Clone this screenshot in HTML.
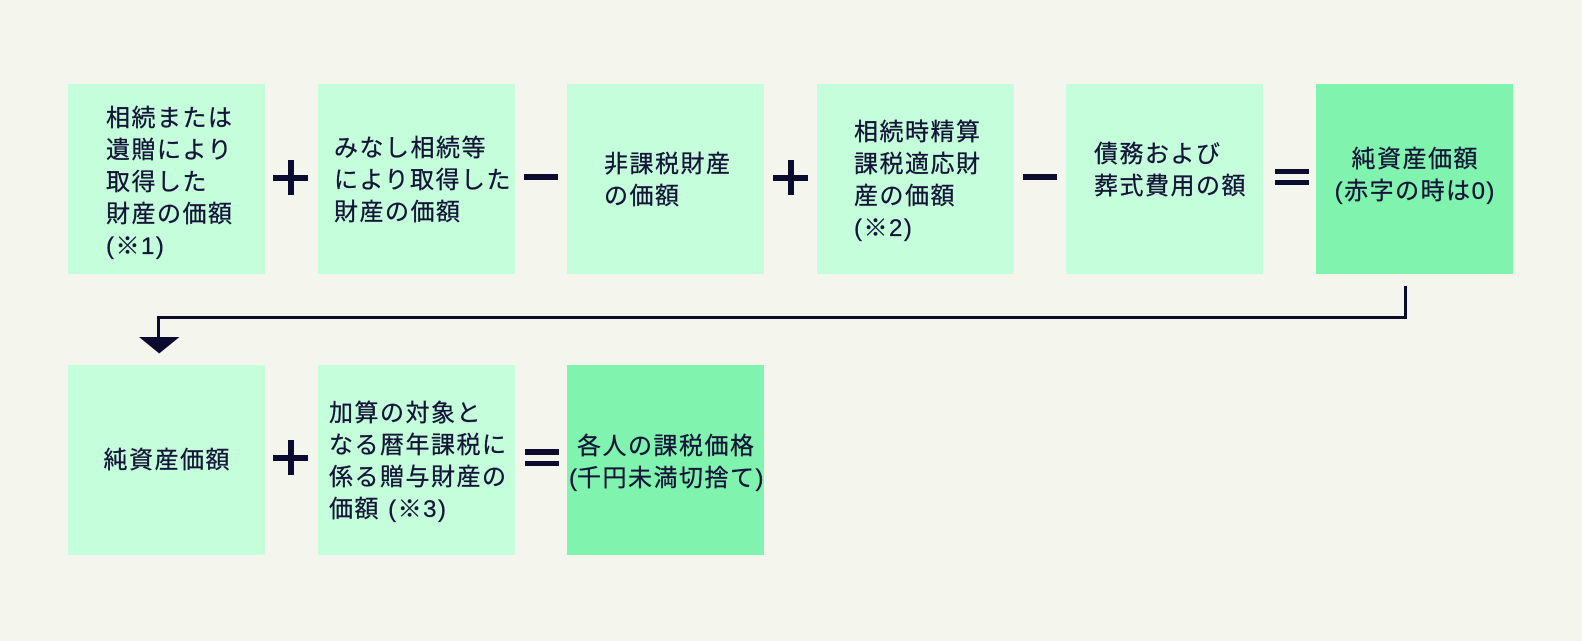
<!DOCTYPE html>
<html><head><meta charset="utf-8"><style>
html,body{margin:0;padding:0}
body{width:1582px;height:641px;background:#f4f6ee;position:relative;overflow:hidden;font-family:"Liberation Sans","Noto Sans CJK JP",sans-serif;}
.b{position:absolute;width:197px;height:190px;background:#c5fedb}
.d{background:#80f3ae}
.t{position:absolute;font-size:24px;line-height:32px;letter-spacing:1.5px;color:#141438;white-space:nowrap;-webkit-text-stroke:0.3px #141438}
.c{text-align:center;width:197px;padding-left:1.5px;box-sizing:border-box}
.p{letter-spacing:0}
.k{position:absolute;background:#0b0b30}
</style></head><body>
<div class="b" style="left:68px;top:84px"></div>
<div class="b" style="left:318px;top:84px"></div>
<div class="b" style="left:567px;top:84px"></div>
<div class="b" style="left:817px;top:84px"></div>
<div class="b" style="left:1066px;top:84px"></div>
<div class="b d" style="left:1316px;top:84px"></div>
<div class="b" style="left:68px;top:365px"></div>
<div class="b" style="left:318px;top:365px"></div>
<div class="b d" style="left:567px;top:365px"></div>

<div class="t" style="left:106px;top:103px">相続または<br>遺贈により<br>取得した<br>財産の価額<br>(※1)</div>
<div class="t" style="left:334px;top:133px">みなし相続等<br>により取得した<br>財産の価額</div>
<div class="t" style="left:604px;top:149px">非課税財産<br>の価額</div>
<div class="t" style="left:854px;top:117px">相続時精算<br>課税適応財<br>産の価額<br>(※2)</div>
<div class="t" style="left:1094px;top:139px">債務および<br>葬式費用の額</div>
<div class="t c" style="left:1316px;top:144px">純資産価額<br>(赤字の時は0)</div>
<div class="t c" style="left:68px;top:445px">純資産価額</div>
<div class="t" style="left:329px;top:398px">加算の対象と<br>なる暦年課税に<br>係る贈与財産の<br>価額 (※3)</div>
<div class="t c" style="left:567px;top:431px">各人の課税価格<br><span class="p">(</span>千円未満切捨て<span class="p">)</span></div>

<!-- row1 operators -->
<div class="k" style="left:273px;top:174.5px;width:35px;height:6px"></div>
<div class="k" style="left:287.5px;top:160px;width:6px;height:35px"></div>
<div class="k" style="left:524px;top:174px;width:34px;height:6px"></div>
<div class="k" style="left:773px;top:174.5px;width:35px;height:6px"></div>
<div class="k" style="left:787.5px;top:160px;width:6px;height:35px"></div>
<div class="k" style="left:1023px;top:174px;width:34px;height:6px"></div>
<div class="k" style="left:1275px;top:168.5px;width:34px;height:5.5px"></div>
<div class="k" style="left:1275px;top:179.5px;width:34px;height:5.5px"></div>
<!-- row2 operators -->
<div class="k" style="left:273px;top:454.5px;width:35px;height:6px"></div>
<div class="k" style="left:287.5px;top:440px;width:6px;height:35px"></div>
<div class="k" style="left:525px;top:449px;width:34px;height:5.5px"></div>
<div class="k" style="left:525px;top:460.5px;width:34px;height:5.5px"></div>

<!-- connector -->
<div class="k" style="left:1403.5px;top:286px;width:3px;height:32.5px"></div>
<div class="k" style="left:157px;top:315.5px;width:1249.5px;height:3px"></div>
<div class="k" style="left:157px;top:315.5px;width:3px;height:22px"></div>
<svg style="position:absolute;left:0;top:0" width="1582" height="641"><polygon points="139,337 179.5,337 159.2,353.5" fill="#0b0b30"/></svg>
</body></html>
